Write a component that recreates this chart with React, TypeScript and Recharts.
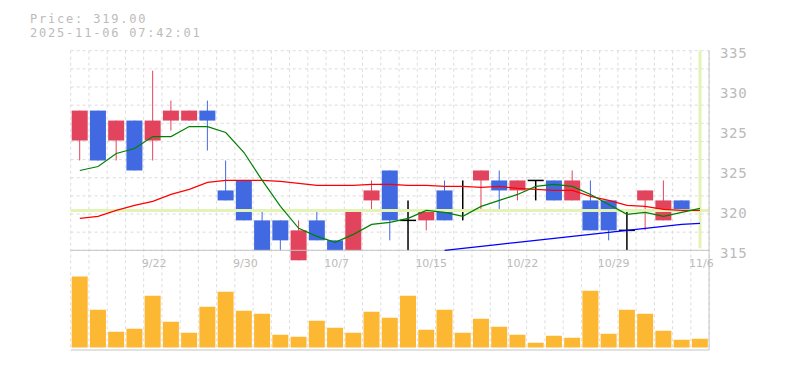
import React from 'react';
import { ComposedChart, Bar, Line, XAxis, YAxis, CartesianGrid, ReferenceLine } from 'recharts';

// trading days, 9/16 .. 11/6
const DATES = [
    '9/16', '9/17', '9/18', '9/19', '9/22', '9/24', '9/25', '9/26', '9/29', '9/30',
    '10/1', '10/2', '10/3', '10/6', '10/7', '10/8', '10/9', '10/10', '10/14', '10/15',
    '10/16', '10/17', '10/20', '10/21', '10/22', '10/23', '10/24', '10/27', '10/28', '10/29',
    '10/30', '10/31', '11/4', '11/5', '11/6'
];
const DATE_TICKS = ['9/22', '9/30', '10/7', '10/15', '10/22', '10/29', '11/6'];

const OPEN = [326, 329, 326, 328, 326, 328, 328, 329, 321, 322, 318, 318, 314, 318, 316, 315, 320, 323, 318, 318, 321, 319, 322, 322, 321, 322, 322, 320, 320, 320, 317, 320, 318, 320, 319];
const HIGH = [329, 329, 328, 328, 333, 330, 329, 330, 324, 322, 319, 318, 318, 319, 316, 319, 322, 323, 320, 319, 322, 322, 323, 323, 322, 322, 322, 323, 322, 320, 319, 321, 322, 320, 320];
const LOW = [324, 324, 324, 323, 324, 327, 328, 325, 320, 318, 315, 315, 314, 316, 315, 315, 319, 316, 315, 317, 318, 318, 319, 319, 320, 320, 320, 320, 317, 316, 315, 317, 318, 319, 319];
const CLOSE = [329, 324, 328, 323, 328, 329, 329, 328, 320, 318, 315, 316, 317, 316, 315, 319, 321, 318, 318, 319, 318, 319, 323, 321, 322, 322, 320, 322, 317, 317, 317, 321, 320, 319, 319];

// moving averages
const MA_SHORT = [323.0, 323.4, 324.7, 325.2, 326.4, 326.4, 327.4, 327.4, 326.8, 324.8, 322.0, 319.4, 317.2, 316.4, 315.8, 316.6, 317.6, 317.8, 318.2, 319.0, 318.8, 318.4, 319.4, 320.0, 320.6, 321.4, 321.6, 321.4, 320.6, 319.6, 318.6, 318.8, 318.4, 318.8, 319.2];
const MA_MID = [318.2, 318.4, 319.0, 319.5, 319.9, 320.6, 321.1, 321.8, 322.0, 322.0, 322.0, 321.9, 321.7, 321.5, 321.5, 321.5, 321.6, 321.6, 321.5, 321.5, 321.4, 321.4, 321.3, 321.4, 321.2, 321.1, 321.0, 321.0, 320.4, 320.0, 319.5, 319.4, 319.1, 319.0, 319.0];
const MA_LONG = [null, null, null, null, null, null, null, null, null, null, null, null, null, null, null, null, null, null, null, null, 315.0, 315.2, 315.4, 315.6, 315.8, 316.0, 316.2, 316.4, 316.6, 316.8, 317.0, 317.2, 317.4, 317.6, 317.7];

const VOLUME = [7100, 3770, 1570, 1870, 5170, 2570, 1470, 4070, 5570, 3670, 3370, 1270, 1070, 2670, 1970, 1470, 3570, 2970, 5170, 1770, 3770, 1470, 2870, 2070, 1270, 470, 1170, 970, 5670, 1370, 3770, 3370, 1670, 770, 870];

const PRICE_MIN = 314;
const PRICE_BASE = 315;
const PRICE_MAX = 335;
const PRICE_TICKS = [315, 319, 323, 327, 331, 335];
const H_LINES = 11;
const LAST_PRICE = 319;
const LAST_TIME = '2025-11-06 07:42:01';

const UP = '#e2445e';
const DOWN = '#4169e1';
const VOL = '#fdb833';
const MARK = '#e3f3b5';
const AXIS = '#c4c4c4';
const GRID = '#dcdcdc';
const LABEL = '#bbbbbb';
const MONO = '"DejaVu Sans Mono", monospace';

const rows = DATES.map((date, i) => ({
    date,
    open: OPEN[i],
    high: HIGH[i],
    low: LOW[i],
    close: CLOSE[i],
    maShort: MA_SHORT[i],
    maMid: MA_MID[i],
    maLong: MA_LONG[i],
    volume: VOLUME[i]
}));

// vertical grid on the band edges of the date axis
const bandEdges = ({ offset }: any) =>
    Array.from({ length: DATES.length + 1 }, (_, i) => offset.left + (offset.width * i) / DATES.length);

// 11 equal steps between 315 and 335
const priceLines = ({ offset }: any) => {
    const span = (offset.height * (PRICE_MAX - PRICE_BASE)) / (PRICE_MAX - PRICE_MIN);
    return Array.from({ length: H_LINES + 1 }, (_, i) => offset.top + (span * i) / H_LINES);
};

const Candle = (props: any) => {
    const { x, y, width, height, payload } = props;
    const { open, close, high, low } = payload;
    const unit = height / (high - low);
    const py = (p: number) => y + (high - p) * unit;
    const cx = x + width / 2;
    const doji = open === close;
    const color = close > open ? UP : close < open ? DOWN : '#000';
    const top = py(Math.max(open, close));
    const bottom = py(Math.min(open, close));
    return (
        <g>
            <line x1={cx} x2={cx} y1={y} y2={y + height} stroke={color} strokeWidth={doji ? 1.5 : 1} />
            {doji
                ? <line x1={x} x2={x + width} y1={top} y2={top} stroke={color} strokeWidth={1.5} />
                : <rect x={x} y={top} width={width} height={bottom - top} fill={color} />}
        </g>
    );
};

const DateTick = ({ x, y, payload }: any) => (
    <text x={x - 11} y={y + 6.4} fill={LABEL} fontSize={11} fontFamily='"DejaVu Sans", sans-serif'>
        {payload.value}
    </text>
);

const PriceTick = ({ x, y, payload }: any) => (
    <text x={x} y={y + 7.6} fill={LABEL} fontSize={14} letterSpacing={0.6} fontFamily={MONO}>
        {Math.round(payload.value / 5) * 5}
    </text>
);

export default function App() {
    return (
        <div style={{ position: 'absolute', left: 0, top: 0, width: 785, height: 370, background: '#fff' }}>
            {/* volume panel */}
            <div style={{ position: 'absolute', left: 0, top: 0 }}>
                <ComposedChart width={785} height={370} data={rows} margin={{ top: 260.3, right: 0, bottom: 19, left: 70.7 }}>
                    <CartesianGrid horizontal={false} verticalCoordinatesGenerator={bandEdges} stroke={GRID} strokeDasharray="3 3" />
                    <XAxis dataKey="date" tick={false} tickLine={false} height={1} axisLine={{ stroke: AXIS }} />
                    <YAxis orientation="right" width={75.9} domain={[-250, 8720]} tick={false} tickLine={false} axisLine={{ stroke: AXIS }} allowDataOverflow />
                    <Bar dataKey="volume" fill={VOL} barSize={16} isAnimationActive={false} />
                </ComposedChart>
            </div>

            {/* price panel */}
            <div style={{ position: 'absolute', left: 0, top: 0 }}>
                <ComposedChart width={785} height={370} data={rows} margin={{ top: 50.7, right: 0, bottom: 108.7, left: 70.7 }}>
                    <CartesianGrid
                        verticalCoordinatesGenerator={bandEdges}
                        horizontalCoordinatesGenerator={priceLines}
                        stroke={GRID}
                        strokeDasharray="3 3"
                    />
                    <XAxis
                        dataKey="date"
                        ticks={DATE_TICKS}
                        interval={0}
                        height={1}
                        axisLine={false}
                        tickLine={false}
                        tickSize={0}
                        tickMargin={0}
                        tick={<DateTick />}
                    />
                    <YAxis
                        orientation="right"
                        width={75.9}
                        domain={[PRICE_MIN, PRICE_MAX]}
                        ticks={PRICE_TICKS}
                        interval={0}
                        tickLine={false}
                        tickSize={0}
                        tickMargin={11}
                        axisLine={{ stroke: AXIS }}
                        tick={<PriceTick />}
                    />
                    <ReferenceLine y={PRICE_BASE} stroke={AXIS} strokeWidth={1} />
                    <ReferenceLine y={LAST_PRICE} stroke={MARK} strokeWidth={3} />
                    <ReferenceLine
                        segment={[{ x: '11/6', y: 315.2 }, { x: '11/6', y: PRICE_MAX }]}
                        stroke={MARK}
                        strokeWidth={3}
                    />
                    <Line dataKey="maLong" stroke="#0000ff" strokeWidth={1.2} dot={false} isAnimationActive={false} />
                    <Line dataKey="maMid" stroke="#ff0000" strokeWidth={1.2} dot={false} isAnimationActive={false} />
                    <Line dataKey="maShort" stroke="#008000" strokeWidth={1.2} dot={false} isAnimationActive={false} />
                    <Bar dataKey={(d: any) => [d.low, d.high]} barSize={16} shape={<Candle />} isAnimationActive={false} />
                </ComposedChart>
            </div>

            <div style={{ position: 'absolute', left: 30, top: 12.2, fontFamily: MONO, fontSize: 12, letterSpacing: 1.8, lineHeight: '14px', color: LABEL, whiteSpace: 'pre' }}>
                <div>Price: {LAST_PRICE.toFixed(2)}</div>
                <div>{LAST_TIME}</div>
            </div>
        </div>
    );
}
